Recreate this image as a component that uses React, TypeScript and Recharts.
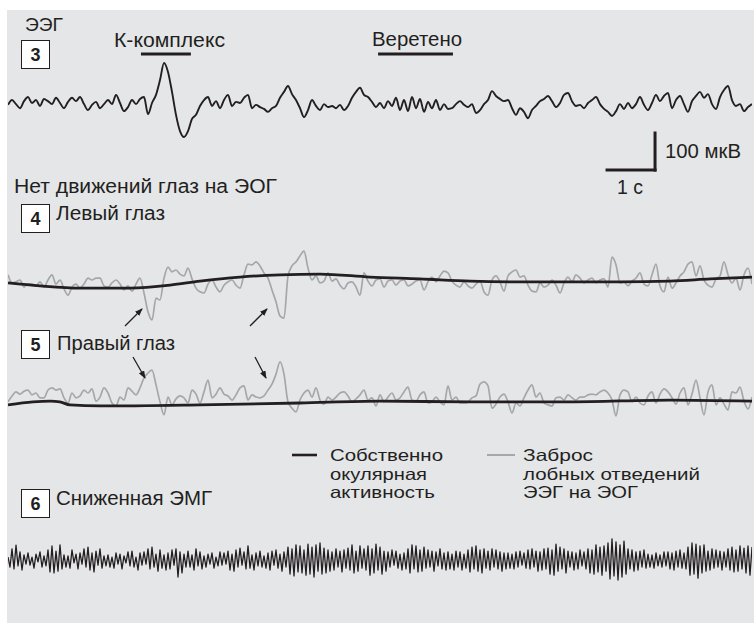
import React from 'react';
import { LineChart, Line, XAxis, YAxis, ReferenceLine } from 'recharts';

const FONT = '"Liberation Sans", Arial, Helvetica, sans-serif';
const INK = '#231f20';
const GREY_TRACE = '#a5a7aa';
const PANEL = '#e5e6e8';

// recording length shown, seconds
const DURATION_S = 15.5;
// samples per second
const TRACE_RATE = 12;
const EMG_RATE = 24;

// EEG (µV, up = positive)
const EEG_UV = [
  -5, 8, -3, -14, 5, 16, 0, 8, -8, 11,
  5, -3, 14, 0, -14, 3, 14, 5, 16, -3,
  -19, -5, 3, -14, -3, 8, -3, 22, 0, -22,
  -11, 8, -3, 11, 16, -30, 0, 22, 62, 108,
  84, 30, -32, -76, -92, -76, -43, -32, -8, 8,
  16, -8, 5, -14, 8, 22, -8, 3, 0, 14,
  22, -14, -5, -11, -16, -24, -14, -8, 14, 30,
  46, 24, 8, -14, -38, -19, 8, -8, -19, -3,
  -11, -8, -14, -5, -19, -8, 14, 30, 41, 22,
  16, 3, -11, 0, -14, 5, -8, 14, -19, 8,
  -22, 16, -14, 11, -24, 3, -14, 8, -19, -3,
  -16, -14, -3, 5, -5, -11, -3, -27, -19, -3,
  8, 32, 19, 11, 5, 8, -14, -32, -14, -24,
  -41, -19, -8, 5, 11, 19, 5, -11, 0, 22,
  27, 5, -8, -5, -14, 0, 8, 16, -3, -16,
  -24, -35, -22, -3, -16, 0, -14, -3, 16, -5,
  -19, 0, 22, 5, 19, 27, -14, 8, 19, -3,
  -24, 5, 19, 30, 14, 24, -3, -16, 16, 35,
  46, 8, -8, -3, -22, -11, -3,
];

// left eye EOG, frontal EEG spill-over (grey trace)
const EOG_LEFT_UV = [
  14, -8, -5, 0, -19, -11, -11, -16, -5, -19,
  0, 14, -11, 0, -24, -41, -19, -11, -22, -11,
  5, 0, 5, 5, -16, -19, -8, 0, -11, -27,
  -16, -30, -11, 5, -35, -86, -108, -49, -54, 5,
  35, 22, 27, 16, 11, 32, 3, -22, -32, -35,
  -11, 0, -19, -32, -14, -5, 0, -14, -22, 14,
  43, 41, 49, 38, 19, 5, -27, -59, -97, -103,
  11, 38, 49, 65, 78, 32, 0, 11, -8, -3,
  19, -3, 3, -14, -24, -8, -5, -19, -41, 19,
  -3, -16, 0, 3, -19, -3, 0, -14, -3, 0,
  -16, -11, -3, 0, -27, -5, 8, -5, 11, 24,
  19, -3, -14, -19, -5, -16, -22, -11, -3, -32,
  -41, 0, 11, -5, -30, 11, 22, 27, 8, 11,
  -14, -30, -32, -8, -19, -14, 0, -14, -35, -8,
  8, -5, 14, 5, -8, 0, 5, -8, 0, 3,
  -19, 62, 41, -8, -5, -16, -3, 5, 19, -11,
  -16, 14, 43, -16, -32, 8, -22, -8, 11, 22,
  43, 49, 11, 38, 0, -14, -19, 3, 11, 49,
  14, -8, 5, -27, 14, 32, -11,
];

// right eye EOG, frontal EEG spill-over (grey trace)
const EOG_RIGHT_UV = [
  3, 19, 30, 24, 32, 35, 22, 27, 14, 14,
  35, 41, 35, 38, 14, 0, 27, 14, 19, 35,
  27, 38, 5, 16, 41, 27, 0, -8, 16, 8,
  41, 32, 22, 41, 68, 81, 89, 49, 3, -32,
  16, -5, 11, 19, 14, 0, 35, 24, 0, 30,
  62, 14, 24, 41, 24, 19, 8, 22, 41, 46,
  8, 22, 16, 14, 19, 35, 51, 78, 111, 78,
  3, -14, -24, 8, 27, 35, 16, 41, 8, -3,
  16, 8, 16, 27, 30, 19, 3, 11, 22, 35,
  8, 14, -8, 22, 3, 16, 27, 8, 14, 30,
  43, 8, 5, 22, 30, 0, 3, 16, 3, -5,
  46, 8, 16, 0, 0, 3, 14, 19, 51, 57,
  46, -14, -3, 16, 24, 3, -27, 0, -8, 14,
  35, 49, 16, 27, 0, -5, -8, 14, 16, 8,
  22, 14, 8, 16, 16, 22, 24, 22, 30, 35,
  27, 8, -35, 22, 35, 30, 3, 16, 0, -5,
  19, 30, 0, 24, 38, 30, 14, -3, 27, 41,
  -5, 24, 62, 14, -32, 30, 49, -5, 14, -3,
  -19, 30, 27, 43, 5, -16, 16,
];

// ocular activity proper (black slow traces)
const SLOW_LEFT_T = [0, 0.67, 1.5, 2.54, 3.38, 4, 4.83, 5.67, 6.5, 7.54, 8.58, 9.63, 10.67, 11.71, 12.75, 13.79, 14.63, 15.5];
const SLOW_LEFT_UV = [-8, -16, -22, -22, -14, -3, 8, 14, 16, 8, 3, -3, -5, -5, -5, -3, 3, 8];
const SLOW_RIGHT_T = [0, 0.52, 0.88, 1.08, 1.29, 1.92, 4, 6.08, 7.75, 9.63, 11.71, 13.79, 15.5];
const SLOW_RIGHT_UV = [-5, 3, 5, 3, -5, -8, -5, 0, 5, 3, 3, 8, 5];

// chin EMG (µV)
const EMG_UV = [
  8, -19, 30, -24, 40, -16, 22, -27, 14, -11,
  19, -14, 8, -22, 16, -5, 22, -19, 11, -16,
  27, -32, 38, -35, 24, -30, 41, -24, 14, -19,
  11, -22, 27, -8, 16, -24, 19, -11, 30, -19,
  35, -27, 19, -32, 24, -14, 30, -22, 11, -16,
  14, -19, 8, -22, 19, -11, 16, -24, 11, -8,
  22, -16, 24, -19, 8, -27, 19, -14, 22, -11,
  30, -24, 35, -19, 16, -30, 27, -22, 14, -27,
  19, -24, 27, -14, 30, -46, 22, -35, 16, -19,
  24, -19, 14, -27, 30, -16, 22, -24, 11, -19,
  16, -11, 19, -22, 8, -16, 22, -14, 19, -11,
  24, -27, 16, -30, 27, -19, 32, -14, 22, -24,
  38, -22, 14, -27, 19, -16, 24, -19, 11, -22,
  19, -27, 24, -14, 27, -22, 16, -30, 22, -19,
  35, -38, 30, -43, 41, -32, 38, -35, 27, -41,
  43, -38, 35, -46, 41, -30, 46, -38, 32, -35,
  27, -30, 22, -27, 30, -19, 24, -32, 27, -22,
  32, -27, 41, -35, 24, -30, 38, -22, 30, -27,
  38, -41, 30, -35, 43, -27, 35, -38, 24, -30,
  22, -19, 27, -14, 24, -22, 16, -27, 19, -24,
  30, -35, 41, -24, 38, -32, 27, -30, 35, -22,
  27, -19, 24, -30, 22, -16, 30, -24, 19, -27,
  22, -24, 16, -27, 24, -19, 22, -27, 16, -22,
  27, -32, 35, -24, 38, -30, 27, -35, 30, -22,
  24, -27, 30, -19, 27, -24, 22, -30, 19, -24,
  19, -22, 16, -24, 22, -19, 24, -14, 19, -22,
  27, -24, 30, -19, 24, -30, 22, -27, 30, -24,
  32, -38, 27, -41, 43, -30, 35, -24, 30, -35,
  24, -19, 22, -27, 19, -24, 27, -16, 22, -24,
  30, -35, 27, -38, 41, -32, 35, -41, 38, -30,
  46, -51, 57, -43, 49, -54, 41, -46, 51, -38,
  30, -24, 27, -30, 22, -27, 24, -19, 27, -22,
  16, -19, 14, -22, 19, -16, 14, -19, 22, -16,
  22, -24, 19, -27, 24, -19, 27, -22, 19, -24,
  35, -41, 46, -38, 43, -49, 38, -35, 41, -30,
  24, -27, 30, -22, 27, -19, 24, -27, 22, -19,
  30, -27, 35, -32, 27, -30, 38, -24, 32, -35,
  38, -41, 35,
];

// event markers above the EEG (seconds)
const EVENT_LABELS = ['К-комплекс', 'Веретено'];
const EVENT_START_S = [2.77, 7.71];
const EVENT_END_S = [3.81, 9.27];

// calibration
const CAL_SECONDS = 1;
const CAL_UV = 100;

const toSeries = (values: number[], rate: number) => values.map((v, i) => ({ t: i / rate, v }));
const toSlow = (ts: number[], values: number[]) => ts.map((t, i) => ({ t, v: values[i] }));

const eegData = toSeries(EEG_UV, TRACE_RATE);
const leftData = toSeries(EOG_LEFT_UV, TRACE_RATE);
const rightData = toSeries(EOG_RIGHT_UV, TRACE_RATE);
const emgData = toSeries(EMG_UV, EMG_RATE);
const leftSlow = toSlow(SLOW_LEFT_T, SLOW_LEFT_UV);
const rightSlow = toSlow(SLOW_RIGHT_T, SLOW_RIGHT_UV);

const CHART_W = 744;
const CHART_LEFT = 8;

const noMargin = { top: 0, right: 0, bottom: 0, left: 0 };

const TraceBox: React.FC<{ top: number; height: number; children: React.ReactNode }> = ({ top, height, children }) => (
  <div style={{ position: 'absolute', left: CHART_LEFT, top, width: CHART_W, height }}>{children}</div>
);

const NumBox: React.FC<{ x: number; y: number; n: string }> = ({ x, y, n }) => (
  <g>
    <rect x={x + 0.5} y={y + 0.5} width={28} height={28} fill="#fff" stroke={INK} strokeWidth={1} />
    <text x={x + 14.5} y={y + 21} textAnchor="middle" fontSize={18} fontWeight="bold" fill={INK}>{n}</text>
  </g>
);

// label text stretched to the width it has in the figure
const Label: React.FC<{ x: number; y: number; w: number; size?: number; anchor?: 'start' | 'middle'; children: string }> = ({ x, y, w, size = 20, anchor = 'start', children }) => (
  <text x={x} y={y} fontSize={size} textAnchor={anchor} textLength={w} lengthAdjust="spacingAndGlyphs">{children}</text>
);

export default function App() {
  const calStart = 12.48;
  const calBase = -181;

  return (
    <div style={{ position: 'absolute', left: 0, top: 0, width: 754, height: 623, background: '#fff', fontFamily: FONT }}>
      <div style={{ position: 'absolute', left: 7, top: 10, width: 747, height: 613, background: PANEL }} />

      {/* EEG */}
      <TraceBox top={43} height={160}>
        <LineChart width={CHART_W} height={160} data={eegData} margin={noMargin}>
          <XAxis type="number" dataKey="t" domain={[0, DURATION_S]} hide />
          <YAxis type="number" domain={[-270, 162]} hide width={0} />
          {EVENT_LABELS.map((name, i) => (
            <ReferenceLine
              key={name}
              segment={[{ x: EVENT_START_S[i], y: 132 }, { x: EVENT_END_S[i], y: 132 }]}
              stroke={INK}
              strokeWidth={3}
              ifOverflow="visible"
            />
          ))}
          <ReferenceLine
            segment={[{ x: calStart, y: calBase }, { x: calStart + CAL_SECONDS, y: calBase }]}
            stroke={INK}
            strokeWidth={3}
            strokeLinecap="square"
            ifOverflow="visible"
          />
          <ReferenceLine
            segment={[{ x: calStart + CAL_SECONDS, y: calBase }, { x: calStart + CAL_SECONDS, y: calBase + CAL_UV }]}
            stroke={INK}
            strokeWidth={3}
            strokeLinecap="square"
            ifOverflow="visible"
          />
          <Line type="monotone" dataKey="v" stroke={INK} strokeWidth={1.9} strokeLinejoin="round" dot={false} isAnimationActive={false} />
        </LineChart>
      </TraceBox>

      {/* left eye */}
      <TraceBox top={220} height={120}>
        <LineChart width={CHART_W} height={120} data={leftData} margin={noMargin}>
          <XAxis type="number" dataKey="t" domain={[0, DURATION_S]} hide />
          <YAxis type="number" domain={[-162, 162]} hide width={0} />
          <Line type="monotone" dataKey="v" stroke={GREY_TRACE} strokeWidth={1.7} strokeLinejoin="round" dot={false} isAnimationActive={false} />
          <Line data={leftSlow} type="monotone" dataKey="v" stroke={INK} strokeWidth={2.8} dot={false} isAnimationActive={false} />
        </LineChart>
      </TraceBox>

      {/* right eye */}
      <TraceBox top={343} height={120}>
        <LineChart width={CHART_W} height={120} data={rightData} margin={noMargin}>
          <XAxis type="number" dataKey="t" domain={[0, DURATION_S]} hide />
          <YAxis type="number" domain={[-162, 162]} hide width={0} />
          <Line type="monotone" dataKey="v" stroke={GREY_TRACE} strokeWidth={1.7} strokeLinejoin="round" dot={false} isAnimationActive={false} />
          <Line data={rightSlow} type="monotone" dataKey="v" stroke={INK} strokeWidth={2.8} dot={false} isAnimationActive={false} />
        </LineChart>
      </TraceBox>

      {/* EMG */}
      <TraceBox top={520} height={80}>
        <LineChart width={CHART_W} height={80} data={emgData} margin={noMargin}>
          <XAxis type="number" dataKey="t" domain={[0, DURATION_S]} hide />
          <YAxis type="number" domain={[-108, 108]} hide width={0} />
          <Line type="linear" dataKey="v" stroke={INK} strokeWidth={1.3} strokeLinejoin="round" dot={false} isAnimationActive={false} />
        </LineChart>
      </TraceBox>

      <svg width={754} height={623} style={{ position: 'absolute', left: 0, top: 0, pointerEvents: 'none' }} fontFamily={FONT}>
        <defs>
          <marker id="ah" markerWidth="8" markerHeight="6" refX="7" refY="3" orient="auto" markerUnits="userSpaceOnUse">
            <path d="M0,0 L8,3 L0,6 z" fill={INK} />
          </marker>
        </defs>
        <g fill={INK}>
          <Label x={25} y={31} w={38} size={19}>ЭЭГ</Label>
          <Label x={114} y={47} w={111}>{EVENT_LABELS[0]}</Label>
          <Label x={372} y={46} w={90}>{EVENT_LABELS[1]}</Label>
          <Label x={665} y={158} w={76}>{`${CAL_UV} мкВ`}</Label>
          <Label x={617} y={194} w={26}>{`${CAL_SECONDS} с`}</Label>
          <Label x={14} y={193} w={263}>Нет движений глаз на ЭОГ</Label>
          <Label x={56} y={220} w={109}>Левый глаз</Label>
          <Label x={57} y={350} w={118}>Правый глаз</Label>
          <Label x={56} y={505} w={156}>Сниженная ЭМГ</Label>
          <Label x={330} y={461} w={113} size={16.5}>Собственно</Label>
          <Label x={330} y={479.5} w={97} size={16.5}>окулярная</Label>
          <Label x={330} y={498} w={105} size={16.5}>активность</Label>
          <Label x={523} y={461} w={70} size={16.5}>Заброс</Label>
          <Label x={523} y={479.5} w={177} size={16.5}>лобных отведений</Label>
          <Label x={523} y={498} w={115} size={16.5}>ЭЭГ на ЭОГ</Label>
        </g>
        <line x1={292} y1={455} x2={317} y2={455} stroke={INK} strokeWidth={2.6} />
        <line x1={487} y1={455} x2={515} y2={455} stroke={GREY_TRACE} strokeWidth={2} />
        <NumBox x={21} y={40} n="3" />
        <NumBox x={21} y={204} n="4" />
        <NumBox x={21} y={330} n="5" />
        <NumBox x={21} y={489} n="6" />
        <g stroke={INK} strokeWidth={1.3} markerEnd="url(#ah)">
          <line x1={125} y1={326} x2={142} y2={309} />
          <line x1={250} y1={326} x2={267} y2={309} />
          <line x1={133} y1={357} x2={145} y2={378} />
          <line x1={255} y1={357} x2={266} y2={378} />
        </g>
      </svg>
    </div>
  );
}
